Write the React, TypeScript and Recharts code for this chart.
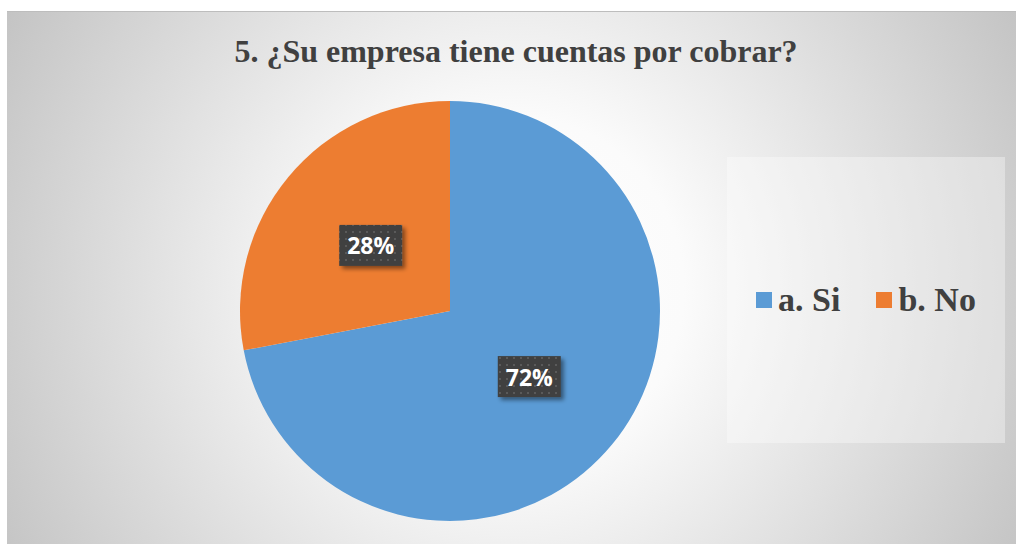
import { PieChart, Pie, Cell, Legend } from "recharts";

const categories = ["a. Si", "b. No"];
const shares = [72, 28];
const colors = ["#5B9BD5", "#ED7D31"];
const title = "5. ¿Su empresa tiene cuentas por cobrar?";

const data = categories.map((name, i) => ({ name, value: shares[i] }));

const RADIAN = Math.PI / 180;
const serif = "'Liberation Serif', 'Times New Roman', serif";

function PctLabel(props: any) {
  const { cx, cy, midAngle, outerRadius, percent, index } = props;
  const r = outerRadius * 0.49;
  const x = cx + r * Math.cos(-midAngle * RADIAN);
  const y = cy + r * Math.sin(-midAngle * RADIAN);
  const w = 63;
  const h = 41;
  const pid = `dots-${index}`;
  const fid = `shadow-${index}`;
  return (
    <g>
      <defs>
        <pattern id={pid} width={7} height={7} patternUnits="userSpaceOnUse">
          <rect width={7} height={7} fill="#3f3f3f" />
          <rect x={2} y={2} width={2} height={2} fill="#5a5a5a" />
        </pattern>
        <filter id={fid} x="-30%" y="-30%" width="160%" height="160%">
          <feDropShadow dx={3} dy={3} stdDeviation={2} floodColor="#000" floodOpacity={0.45} />
        </filter>
      </defs>
      <rect x={x - w / 2} y={y - h / 2} width={w} height={h} fill={`url(#${pid})`} filter={`url(#${fid})`} />
      <text
        x={x}
        y={y}
        textAnchor="middle"
        dominantBaseline="central"
        fill="#ffffff"
        fontFamily="'Open Sans', sans-serif"
        fontWeight={700}
        fontSize={23}
      >
        {`${Math.round(percent * 100)}%`}
      </text>
    </g>
  );
}

function LegendBox(props: any) {
  const items = props.payload || [];
  return (
    <div
      style={{
        width: 278,
        height: 286,
        background: "rgba(255,255,255,0.35)",
        display: "flex",
        alignItems: "center",
        justifyContent: "center",
        gap: 36,
      }}
    >
      {items.map((it: any, i: number) => (
        <div key={i} style={{ display: "flex", alignItems: "center" }}>
          <span style={{ width: 16, height: 16, background: colors[i], marginRight: 6, display: "inline-block" }} />
          <span style={{ fontFamily: serif, fontWeight: 700, fontSize: 34, color: "#404040", lineHeight: 1 }}>
            {it.value}
          </span>
        </div>
      ))}
    </div>
  );
}

export default function App() {
  return (
    <div
      style={{
        position: "absolute",
        left: 7,
        top: 11,
        width: 1009,
        height: 533,
        background:
          "radial-gradient(circle farthest-corner at 50% 52%, #ffffff 0%, #fbfbfb 30%, #c4c4c4 100%)",
        borderTop: "1px solid #bdbdbd",
        boxSizing: "border-box",
      }}
    >
      <div
        style={{
          position: "absolute",
          left: 0,
          top: 23,
          width: 1018,
          textAlign: "center",
          fontFamily: serif,
          fontWeight: 700,
          fontSize: 32,
          lineHeight: "32px",
          color: "#404040",
        }}
      >
        {title}
      </div>
      <PieChart width={1009} height={533} margin={{ top: 0, right: 0, bottom: 0, left: 0 }}>
        <Pie
          data={data}
          dataKey="value"
          nameKey="name"
          cx={443}
          cy={299}
          outerRadius={210}
          startAngle={90}
          endAngle={-270}
          stroke="none"
          label={PctLabel}
          labelLine={false}
          isAnimationActive={false}
        >
          {data.map((d, i) => (
            <Cell key={d.name} fill={colors[i]} />
          ))}
        </Pie>
        <Legend
          layout="vertical"
          align="right"
          verticalAlign="middle"
          width={278}
          height={286}
          content={LegendBox}
          wrapperStyle={{ left: 720, top: 145 }}
        />
      </PieChart>
    </div>
  );
}
